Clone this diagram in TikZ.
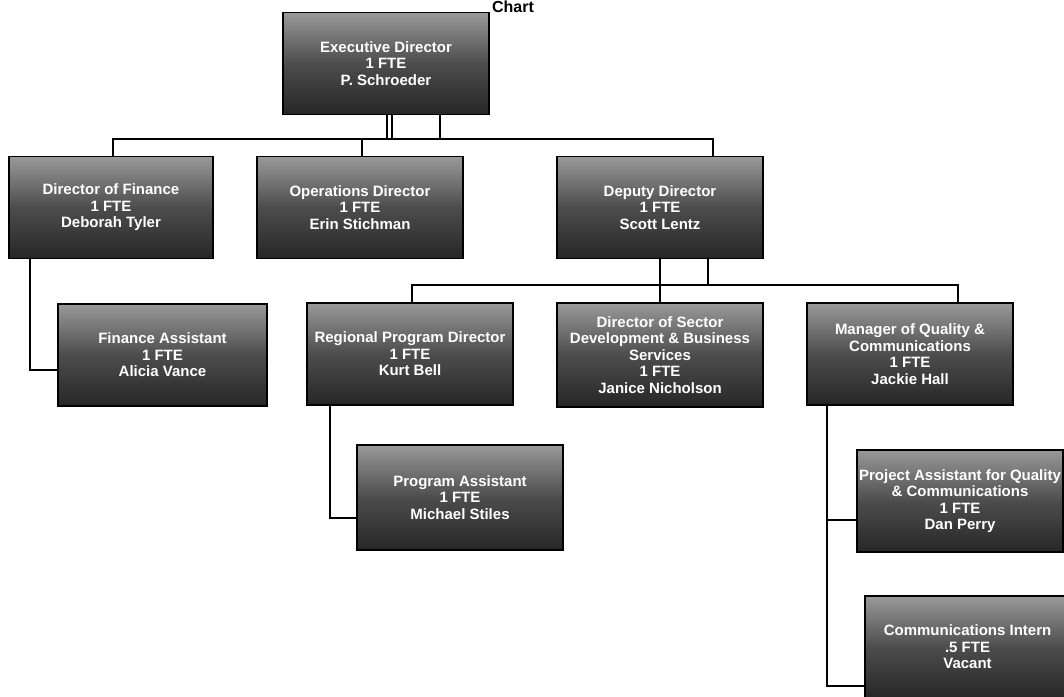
\documentclass[tikz,border=0pt]{standalone}
\usepackage{fontspec}
\setmainfont{Liberation Sans}
\begin{document}
\begin{tikzpicture}[x=1pt,y=-1pt,
  box/.style={draw=black, line width=1.2pt, top color=black!40, bottom color=black!85,
    middle color=black!70, minimum width=206pt, minimum height=102pt, inner sep=1pt,
    align=center, text=white, font=\fontsize{15}{16.5}\selectfont\bfseries},
  link/.style={draw=black, line width=1.3pt}]
\useasboundingbox (0,0) rectangle (1064,696);
\node[font=\fontsize{16}{18}\selectfont\bfseries, anchor=base] (title) at (513,12.5) {Chart};
% level 0
\node[box] (exec) at (386,63.5) {Executive Director\\1 FTE\\P. Schroeder};
% level 1
\node[box, minimum width=204pt] (fin) at (111,207.5) {Director of Finance\\1 FTE\\Deborah Tyler};
\node[box] (ops) at (360,207.5) {Operations Director\\1 FTE\\Erin Stichman};
\node[box] (dep) at (660,207.5) {Deputy Director\\1 FTE\\Scott Lentz};
% level 2
\node[box, minimum width=209pt] (fa) at (162.5,355) {Finance Assistant\\1 FTE\\Alicia Vance};
\node[box] (rpd) at (410,354) {Regional Program Director\\1 FTE\\Kurt Bell};
\node[box, minimum height=104pt] (dsd) at (660,355) {Director of Sector\\Development \& Business\\Services\\1 FTE\\Janice Nicholson};
\node[box] (mqc) at (910,354) {Manager of Quality \&\\Communications\\1 FTE\\Jackie Hall};
% level 3
\node[box, minimum height=105pt] (pa) at (460,497.5) {Program Assistant\\1 FTE\\Michael Stiles};
\node[box] (paq) at (960,501) {Project Assistant for Quality\\\& Communications\\1 FTE\\Dan Perry};
\node[box, minimum width=205pt] (ci) at (967.5,647) {Communications Intern\\.5 FTE\\Vacant};
% buses
\coordinate (busA) at (0,139);
\coordinate (busB) at (0,285);
\draw[link] (exec.south -| 387,0) -- (387,139);
\draw[link] (exec.south -| 392,0) -- (392,139);
\draw[link] (exec.south -| 440,0) -- (440,139);
\draw[link] (fin.north -| 113,0) -- (busA -| 113,0) -- (busA -| 713,0) -- (dep.north -| 713,0);
\draw[link] (ops.north -| 362,0) -- (busA -| 362,0);
\draw[link] (dep.south) -- (dsd.north -| dep.south);
\draw[link] (dep.south -| 708,0) -- (busB -| 708,0);
\draw[link] (rpd.north -| 412,0) -- (busB -| 412,0) -- (busB -| 958,0) -- (mqc.north -| 958,0);
% side links
\draw[link] (fin.south -| 30,0) |- (fa.west |- 0,370);
\draw[link] (rpd.south -| 330,0) |- (pa.west |- 0,518);
\draw[link] (mqc.south -| 827,0) |- (paq.west |- 0,520);
\draw[link] (mqc.south -| 827,0) |- (ci.west |- 0,686);
\end{tikzpicture}
\end{document}
